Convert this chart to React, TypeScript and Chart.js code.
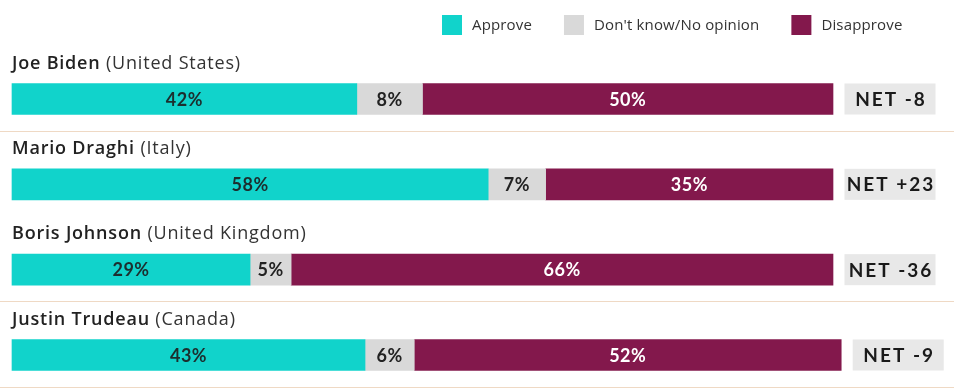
import React, { useEffect, useRef } from "react";
import { Chart, registerables } from "chart.js";

Chart.register(...registerables);

const leaders = ["Joe Biden", "Mario Draghi", "Boris Johnson", "Justin Trudeau"];
const countries = ["United States", "Italy", "United Kingdom", "Canada"];
const approve = [42, 58, 29, 43];
const dontKnow = [8, 7, 5, 6];
const disapprove = [50, 35, 66, 52];
const net = [-8, 23, -36, -9];
const seriesNames = ["Approve", "Don't know/No opinion", "Disapprove"];
const separatorAfter = [true, false, true, true];

const COLORS = ["#11d3cb", "#d9d9d9", "#83184c"];
const LABEL_COLORS = ["#1c2e2e", "#222222", "#ffffff"];
const TITLE_FONT = "'Open Sans'";
const LABEL_FONT = "Lato";

const overlay = {
  id: "overlay",
  afterDatasetsDraw(chart: any) {
    const ctx: CanvasRenderingContext2D = chart.ctx;
    const yScale = chart.scales.y;
    ctx.save();
    // segment labels
    chart.data.datasets.forEach((ds: any, di: number) => {
      const meta = chart.getDatasetMeta(di);
      meta.data.forEach((bar: any, i: number) => {
        const p = bar.getProps(["x", "base", "y"], true);
        ctx.fillStyle = LABEL_COLORS[di];
        ctx.font = `bold 18px ${LABEL_FONT}`;
        (ctx as any).letterSpacing = "0.5px";
        ctx.textAlign = "center";
        ctx.textBaseline = "middle";
        ctx.fillText(ds.data[i] + "%", (p.x + p.base) / 2, p.y + 1);
      });
    });
    // titles, net boxes, separators
    leaders.forEach((name, i) => {
      const y = yScale.getPixelForValue(i);
      const last = chart.getDatasetMeta(2).data[i].getProps(["x"], true);
      const left = chart.chartArea.left;
      // title
      ctx.textAlign = "left";
      ctx.textBaseline = "middle";
      (ctx as any).letterSpacing = "0.8px";
      ctx.fillStyle = "#222222";
      ctx.font = `600 18px ${TITLE_FONT}`;
      ctx.fillText(name, left, y - 35.5);
      const w = ctx.measureText(name).width;
      ctx.fillStyle = "#333333";
      ctx.font = `18px ${TITLE_FONT}`;
      ctx.fillText(" (" + countries[i] + ")", left + w, y - 35.5);
      // NET box
      const bx = last.x + 11.5;
      ctx.fillStyle = "#e8e8e8";
      ctx.fillRect(bx, y - 15.5, 91, 31);
      ctx.fillStyle = "#1a1a1a";
      ctx.font = `bold 19px ${LABEL_FONT}`;
      (ctx as any).letterSpacing = "2px";
      ctx.textAlign = "center";
      const txt = "NET " + (net[i] > 0 ? "+" + net[i] : String(net[i]));
      ctx.fillText(txt, bx + 45.5 + 1, y + 1);
      (ctx as any).letterSpacing = "0px";
      // separator
      if (separatorAfter[i]) {
        ctx.strokeStyle = "#efd9c4";
        ctx.lineWidth = 1;
        ctx.beginPath();
        ctx.moveTo(0, Math.round(y + 31.5) + 0.5);
        ctx.lineTo(chart.width, Math.round(y + 31.5) + 0.5);
        ctx.stroke();
      }
    });
    // legend
    let lx = 442;
    ctx.font = `15px ${TITLE_FONT}`;
    (ctx as any).letterSpacing = "0.15px";
    ctx.textAlign = "left";
    ctx.textBaseline = "middle";
    seriesNames.forEach((s, k) => {
      ctx.fillStyle = COLORS[k];
      ctx.fillRect(lx, 15, 20, 20);
      ctx.fillStyle = "#333333";
      ctx.fillText(s, lx + 30, 25.5);
      lx += 30 + ctx.measureText(s).width + 32;
    });
    ctx.restore();
  },
};

export default function App() {
  const ref = useRef<HTMLCanvasElement>(null);
  useEffect(() => {
    document.body.style.margin = "0";
    const values = [approve, dontKnow, disapprove];
    const chart = new Chart(ref.current!, {
      type: "bar",
      data: {
        labels: leaders,
        datasets: seriesNames.map((s, k) => ({
          label: s,
          data: values[k],
          backgroundColor: COLORS[k],
          borderWidth: 0,
          barThickness: 31,
          clip: false as any,
        })),
      },
      options: {
        indexAxis: "y",
        responsive: false,
        animation: false,
        layout: { padding: { left: 12, right: 121, top: 99, bottom: 33 } },
        plugins: { legend: { display: false }, tooltip: { enabled: false } },
        scales: {
          x: { stacked: true, min: 0, max: 100, display: false },
          y: { stacked: true, offset: false, display: false },
        },
      },
      plugins: [overlay],
    });
    return () => chart.destroy();
  }, []);
  return <canvas ref={ref} width={954} height={388} style={{ display: "block" }} />;
}
